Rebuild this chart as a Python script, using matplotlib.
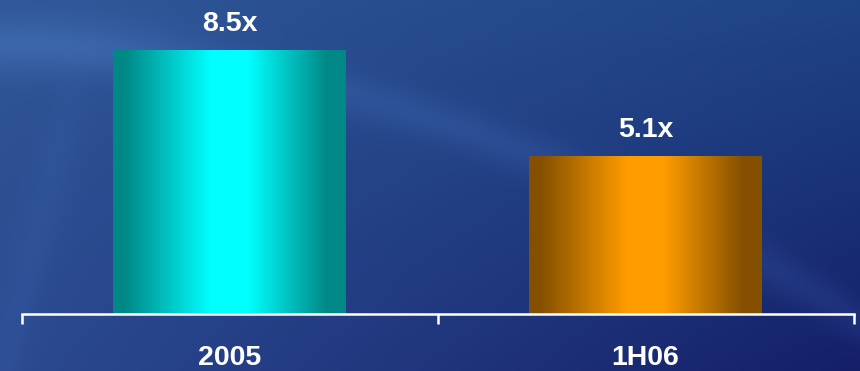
import numpy as np
import matplotlib
matplotlib.use("Agg")
import matplotlib.pyplot as plt
from matplotlib.colors import to_rgb

categories = ["2005", "1H06"]
multiples = [8.5, 5.1]
value_labels = ["8.5x", "5.1x"]

# edge / centre colours of the shaded bars
BAR_SHADES = [("#008886", "#00ffff"), ("#845000", "#ff9c00")]
WHITE = "#ffffff"
FONT = ["Liberation Sans", "DejaVu Sans"]

W, H, DPI = 860, 371, 100


def backdrop(w, h):
    """Deep blue slide background with a soft lighter swoosh."""
    tl, tr = np.array(to_rgb("#2f5696")), np.array(to_rgb("#1f4486"))
    bl, br = np.array(to_rgb("#2b4a90")), np.array(to_rgb("#141f68"))
    u = np.linspace(0, 1, w)[None, :, None]
    v = np.linspace(0, 1, h)[:, None, None]
    img = (tl * (1 - u) * (1 - v) + tr * u * (1 - v)
           + bl * (1 - u) * v + br * u * v)
    xx, yy = np.meshgrid(np.arange(w), np.arange(h))
    # curved light band running from upper left down to the right edge
    curve = 45 + 0.00035 * xx ** 2 + 0.02 * xx
    band = np.exp(-((yy - curve) / 22.0) ** 2) * 0.055
    fade = 1 / (1 + np.exp(-(yy - 110) / 20.0))
    streak = np.exp(-((xx - (70 - 0.25 * (yy - 100))) / 20.0) ** 2) * 0.025 * fade
    glow = np.exp(-(((xx - 60) / 140.0) ** 2 + ((yy - 40) / 40.0) ** 2)) * 0.04
    img = img + (band + streak + glow)[:, :, None] * np.array([0.6, 0.8, 1.0])
    return np.clip(img, 0, 1)


def bar_gradient(edge, centre, n=400):
    # linear ramps: dark rims, bright band just left of centre
    t = np.linspace(0, 1, n)
    k = np.clip(np.minimum((t - 0.05) / 0.37, (0.92 - t) / 0.34), 0, 1)
    e, c = np.array(to_rgb(edge)), np.array(to_rgb(centre))
    row = e[None, :] * (1 - k[:, None]) + c[None, :] * k[:, None]
    return np.repeat(row[None, :, :], 4, axis=0)


fig = plt.figure(figsize=(W / DPI, H / DPI), dpi=DPI)

bg = fig.add_axes([0, 0, 1, 1], zorder=0)
bg.imshow(backdrop(W, H), aspect="auto", extent=[0, 1, 0, 1], interpolation="bilinear")
bg.set_axis_off()

ax = fig.add_axes([21.5 / W, (H - 314) / H, 832 / W, 314 / H], zorder=1)
ax.patch.set_alpha(0)

x = np.arange(len(categories))
bars = ax.bar(x, multiples, width=0.56, color="none", edgecolor="none")
for patch, (edge, centre) in zip(bars, BAR_SHADES):
    x0, y0 = patch.get_x(), patch.get_y()
    x1, y1 = x0 + patch.get_width(), y0 + patch.get_height()
    im = ax.imshow(bar_gradient(edge, centre), extent=[x0, x1, y0, y1],
                   aspect="auto", interpolation="nearest", zorder=2)
    im.set_clip_path(patch)

for xi, val, lab in zip(x, multiples, value_labels):
    ax.annotate(lab, (xi, val), xytext=(0, 13.5), textcoords="offset points",
                ha="center", va="baseline", color=WHITE, fontsize=20.5,
                fontweight="bold", family=FONT)

ax.set_xlim(-0.5, 1.5)
ax.set_ylim(0, 314 / 31.06)

for side in ("top", "right", "left"):
    ax.spines[side].set_visible(False)
ax.spines["bottom"].set_color(WHITE)
ax.spines["bottom"].set_linewidth(1.8)
ax.set_yticks([])

ax.set_xticks([-0.5, 0.5, 1.5])
ax.set_xticklabels([])
ax.tick_params(axis="x", which="major", direction="out", length=7.5,
               width=1.8, color=WHITE)
ax.set_xticks(x, minor=True)
ax.set_xticklabels(categories, minor=True)
ax.tick_params(axis="x", which="minor", length=0, pad=22, labelsize=20.5,
               labelcolor=WHITE)
for t in ax.get_xticklabels(minor=True):
    t.set_fontweight("bold")
    t.set_family(FONT)

fig.savefig("out.png", dpi=DPI)
